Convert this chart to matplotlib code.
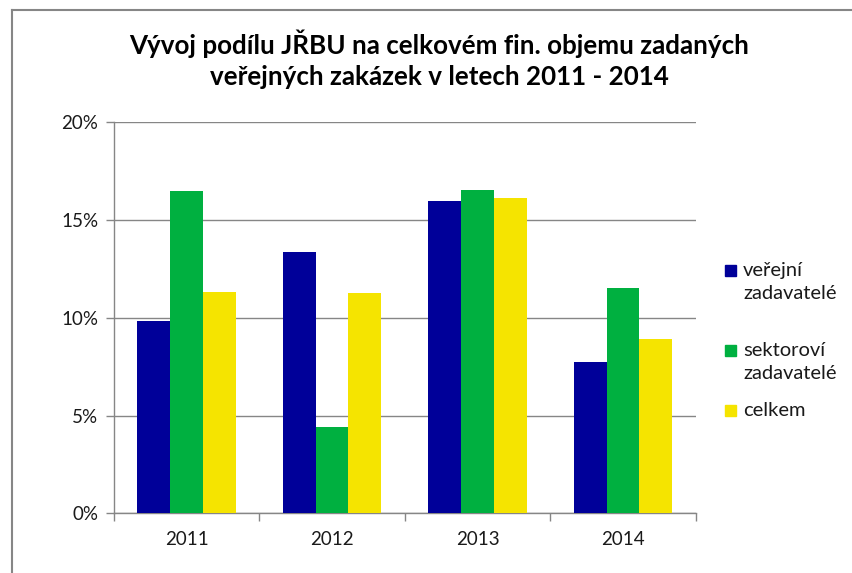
import matplotlib.pyplot as plt
from matplotlib.lines import Line2D
from matplotlib.patches import Rectangle
from matplotlib.ticker import FuncFormatter, FixedLocator
import numpy as np

plt.rcParams['font.family'] = ['Lato', 'DejaVu Sans']

years = ['2011', '2012', '2013', '2014']
verejni = [9.85, 13.37, 15.99, 7.74]
sektorovi = [16.49, 4.43, 16.52, 11.52]
celkem = [11.34, 11.25, 16.13, 8.92]

series = [
    ('veřejní\nzadavatelé', verejni, '#000099'),
    ('sektoroví\nzadavatelé', sektorovi, '#00B040'),
    ('celkem', celkem, '#F5E400'),
]

fig = plt.figure(figsize=(8.52, 5.73), dpi=100)
ax = fig.add_axes([0.1335, 0.1042, 0.6831, 0.6824])

x = np.arange(len(years))
width = 0.225
for i, (label, vals, color) in enumerate(series):
    ax.bar(x + (i - 1) * width, vals, width, color=color, zorder=3)

grey = '#868686'
ax.set_xlim(-0.5, len(years) - 0.5)
ax.set_ylim(0, 20)
ax.set_yticks([0, 5, 10, 15, 20])
ax.yaxis.set_major_formatter(FuncFormatter(lambda v, p: f'{v:.0f}%'))
ax.grid(axis='y', color=grey, lw=1, zorder=0)
ax.set_xticks(x)
ax.set_xticklabels(years)
ax.xaxis.set_minor_locator(FixedLocator(np.arange(-0.5, len(years), 1)))
ax.tick_params(axis='x', which='major', length=0, pad=13, labelsize=13.5, colors='#1a1a1a')
ax.tick_params(axis='x', which='minor', length=6, color=grey, width=1)
ax.tick_params(axis='y', length=6, color=grey, width=1, labelsize=13.5, pad=5, colors='#1a1a1a')
for s in ['top', 'right']:
    ax.spines[s].set_visible(False)
for s in ['left', 'bottom']:
    ax.spines[s].set_color(grey)
    ax.spines[s].set_linewidth(1)

fig.text(439 / 852, 1 - 59 / 573, 'Vývoj podílu JŘBU na celkovém fin. objemu zadaných\nveřejných zakázek v letech 2011 - 2014',
         ha='center', va='center', fontsize=18.7, fontweight='bold', linespacing=1.35)

# legend drawn by hand, marker next to first text line
leg_y = [270, 350, 410]
for (label, vals, color), yp in zip(series, leg_y):
    yf = 1 - yp / 573
    fig.patches.append(Rectangle((725 / 852, yf - 5.5 / 573), 11 / 852, 11 / 573,
                                 transform=fig.transFigure, color=color))
    fig.text(743 / 852, yf + 8 / 573, label, ha='left', va='top', fontsize=14.5,
             linespacing=1.45, color='#1a1a1a')

# chart frame (top and left edges)
fig.lines.append(Line2D([12 / 852, 1], [1 - 10 / 573] * 2, transform=fig.transFigure, color=grey, lw=1.5))
fig.lines.append(Line2D([12 / 852] * 2, [0, 1 - 10 / 573], transform=fig.transFigure, color=grey, lw=1.5))

fig.savefig('out.png', dpi=100)
